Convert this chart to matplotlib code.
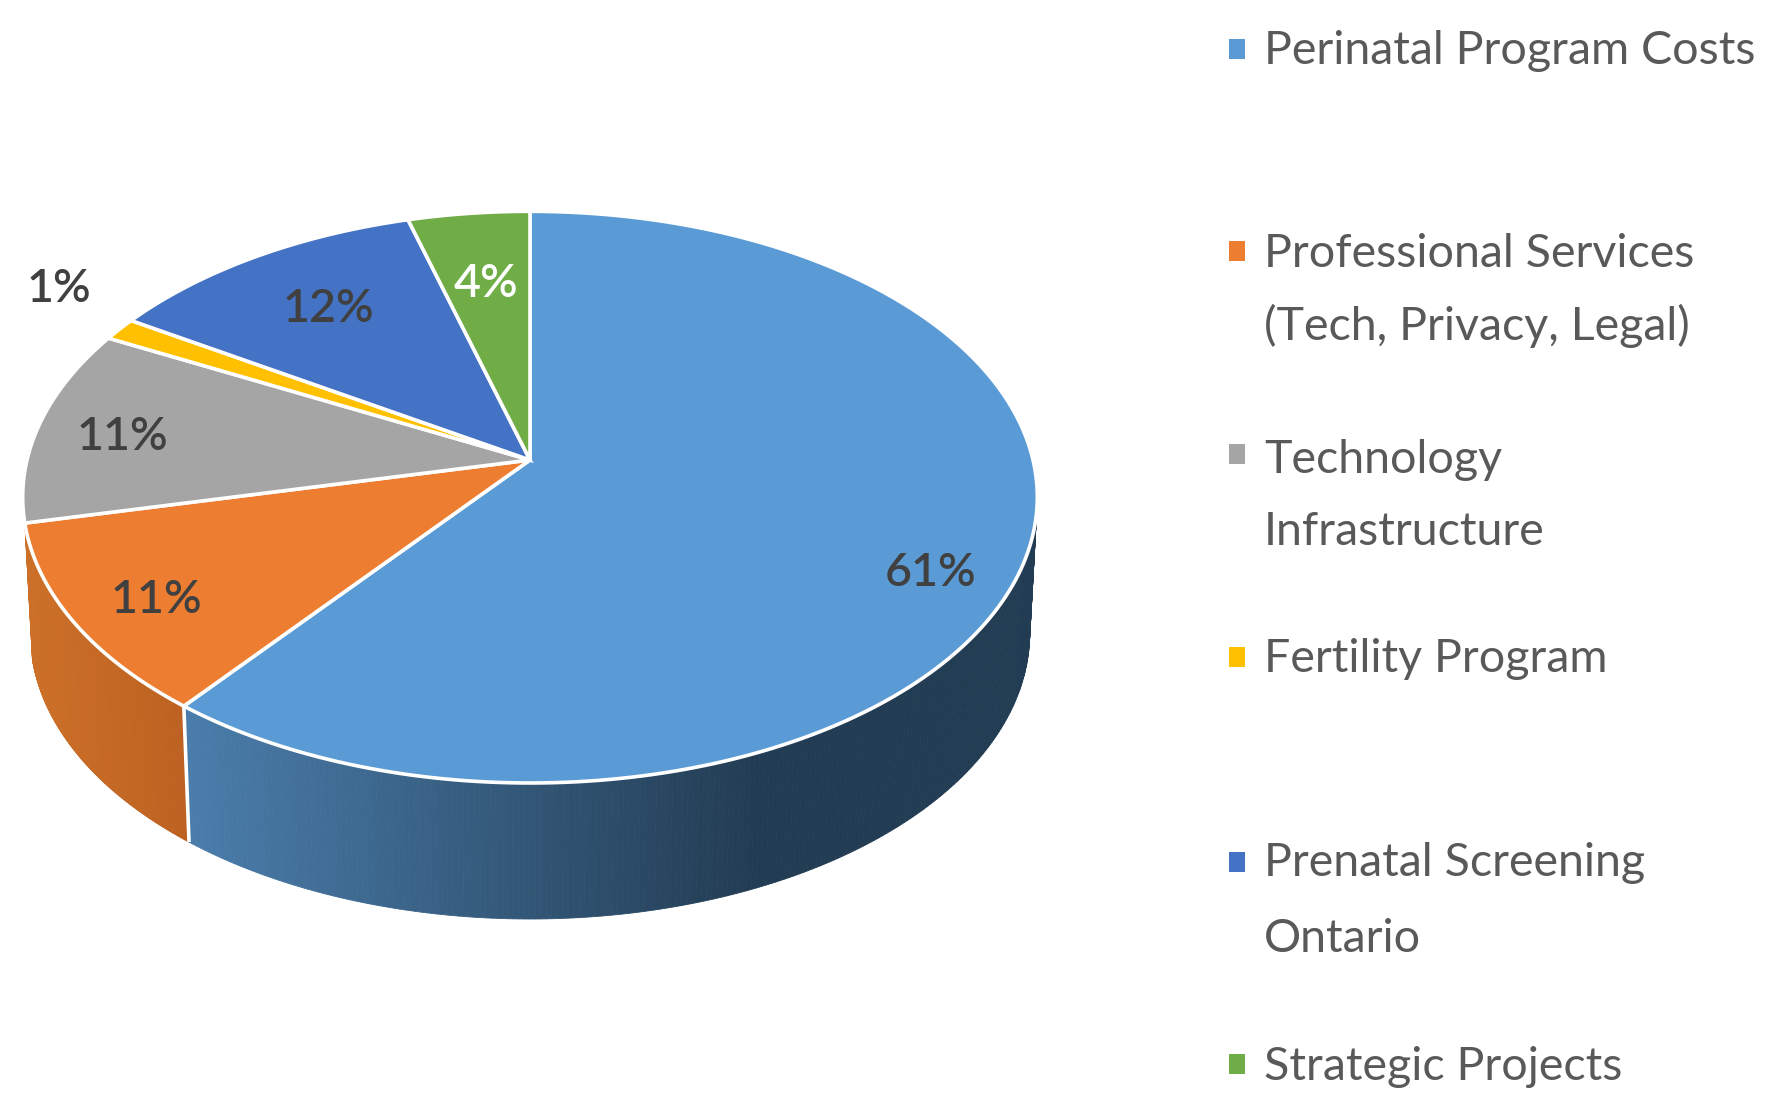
import numpy as np
import matplotlib
matplotlib.use("Agg")
import matplotlib.pyplot as plt
from matplotlib.patches import Polygon, Rectangle

categories = [
    "Perinatal Program Costs",
    "Professional Services\n(Tech, Privacy, Legal)",
    "Technology\nInfrastructure",
    "Fertility Program",
    "Prenatal Screening\nOntario",
    "Strategic Projects",
]
# shares, they round to the printed labels
values = [60.6, 10.9, 11.1, 1.3, 11.7, 4.4]
colors = ["#5B9BD5", "#ED7D31", "#A5A5A5", "#FFC000", "#4472C4", "#70AD47"]
label_colors = ["#404040", "#404040", "#404040", "#404040", "#404040", "#FFFFFF"]

# pixel layout of the tilted pie
APEX_X, APEX_Y = 530, 460
RX, RY, PERSP = 503, 281, 0.13
DEPTH = 136

label_pos = [(931, 573), (156, 600), (122, 437), (59, 289), (328, 309), (486, 284)]
legend_baselines = [64, 267, 473, 672, 876, 1080]
legend_steps = [0, 73, 72, 0, 76, 0]
legend_marks = [49, 251, 454, 657, 862, 1064]


def top_face(theta):
    # theta in degrees clockwise from 12 o'clock, circle seen in perspective
    t = np.radians(theta)
    w = 1 + PERSP * np.cos(t)
    return APEX_X + RX * np.sin(t) / w, APEX_Y - RY * np.cos(t) / w


def bottom_face(theta):
    x, y = top_face(theta)
    return APEX_X + (x - APEX_X) * 0.985, y + DEPTH


def side(ax, start, end, left_rgb, right_rgb, x_span):
    angles = np.linspace(start, end, 260)
    for a, b in zip(angles[:-1], angles[1:]):
        xa, ya = top_face(a)
        xb, yb = top_face(b)
        xc, yc = bottom_face(b)
        xd, yd = bottom_face(a)
        frac = np.clip((xa - x_span[0]) / (x_span[1] - x_span[0]), 0, 1)
        col = np.array(left_rgb) + (np.array(right_rgb) - np.array(left_rgb)) * frac
        ax.add_patch(Polygon([(xa, ya), (xb, yb), (xc, yc), (xd, yd)],
                             closed=True, facecolor=col, edgecolor=col, lw=0.6))


fig = plt.figure(figsize=(17.67, 10.94), dpi=100)
ax = fig.add_axes([0, 0, 1, 1])
ax.set_xlim(0, 1767)
ax.set_ylim(1094, 0)
ax.axis("off")

edges = np.cumsum([0] + values) / sum(values) * 360

# visible walls, front slices only
side(ax, 75, edges[1], (0.29, 0.49, 0.67), (0.135, 0.235, 0.325), (190, 760))
side(ax, edges[1], edges[2], (0.80, 0.44, 0.16), (0.74, 0.38, 0.13), (25, 190))
x0, y0 = top_face(edges[1])
x1, y1 = bottom_face(edges[1])
ax.plot([x0, x1], [y0, y1], color="white", lw=2.6, solid_capstyle="butt")

for i, col in enumerate(colors):
    angles = np.linspace(edges[i], edges[i + 1], 200)
    xs, ys = top_face(angles)
    pts = [(APEX_X, APEX_Y)] + list(zip(xs, ys))
    ax.add_patch(Polygon(pts, closed=True, facecolor=col, edgecolor="white",
                         lw=2.6, joinstyle="miter"))

for (x, y), v, c in zip(label_pos, values, label_colors):
    ax.text(x, y, f"{round(v)}%", ha="center", va="center", color=c,
            fontsize=33.5, family="Lato", fontweight="semibold")

for name, col, base, step, my in zip(categories, colors, legend_baselines,
                                     legend_steps, legend_marks):
    ax.add_patch(Rectangle((1229, my - 10), 16, 20, facecolor=col, edgecolor="none"))
    lines = name.split("\n")
    ax.text(1264, base, lines[0], ha="left", va="baseline", color="#595959",
            fontsize=33.5, family="Lato")
    if len(lines) > 1:
        ax.text(1264, base + step, lines[1], ha="left", va="baseline",
                color="#595959", fontsize=33.5, family="Lato")

fig.savefig("out.png", dpi=100, facecolor="white")
plt.close(fig)
